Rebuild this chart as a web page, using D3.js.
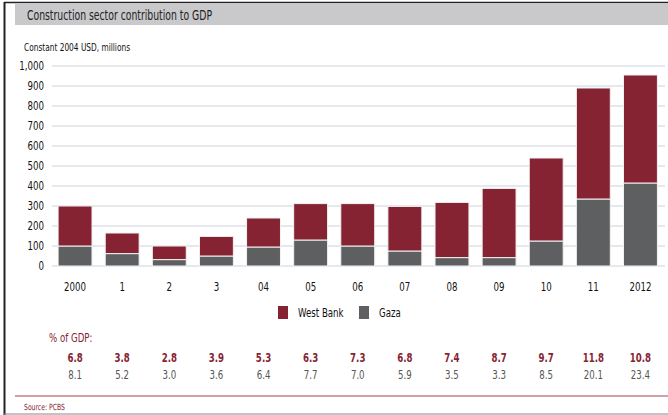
<!doctype html>
<html lang="en">
<head>
<meta charset="utf-8">
<title>Construction sector contribution to GDP</title>
<style>
  body { margin: 0; background: #fff; }
  svg text { font-family: "DejaVu Sans Condensed", "Liberation Sans Narrow", "Arial Narrow", sans-serif; }
</style>
</head>
<body>
<svg id="chart" width="668" height="415"></svg>
<script src="https://cdn.jsdelivr.net/npm/d3@7"></script>
<script>
// data
var years = ["2000", "1", "2", "3", "04", "05", "06", "07", "08", "09", "10", "11", "2012"];
var gaza = [100, 62, 32, 50, 95, 130, 100, 75, 42, 42, 125, 335, 415];
var westBank = [200, 103, 68, 98, 145, 182, 212, 223, 276, 346, 415, 555, 540];
var gdpWestBank = ["6.8", "3.8", "2.8", "3.9", "5.3", "6.3", "7.3", "6.8", "7.4", "8.7", "9.7", "11.8", "10.8"];
var gdpGaza = ["8.1", "5.2", "3.0", "3.6", "6.4", "7.7", "7.0", "5.9", "3.5", "3.3", "8.5", "20.1", "23.4"];
var yTicks = [0, 100, 200, 300, 400, 500, 600, 700, 800, 900, 1000];

var maroon = "#862333";
var grey = "#5e5f61";
var squeeze = "scale(0.8,1)"; // the original uses a narrow font

var svg = d3.select("#chart");

// put a narrow-looking text at (px, py)
function label(parent, px, py, txt) {
  return parent.append("g").attr("transform", "translate(" + px + "," + py + ")")
    .append("text").attr("transform", squeeze).text(txt);
}

// frame + title bar
svg.append("rect").attr("x", 15).attr("y", 4).attr("width", 653).attr("height", 21).attr("fill", "#c9c9cb");
svg.append("line").attr("x1", 4).attr("x2", 668).attr("y1", 2.5).attr("y2", 2.5).attr("stroke", "#222").attr("stroke-width", 1.5);
svg.append("line").attr("x1", 4.5).attr("x2", 4.5).attr("y1", 2).attr("y2", 415).attr("stroke", "#222").attr("stroke-width", 2);
svg.append("text").attr("x", 27).attr("y", 20).attr("font-size", 14).attr("fill", "#222")
  .attr("textLength", 185).attr("lengthAdjust", "spacingAndGlyphs")
  .text("Construction sector contribution to GDP");
svg.append("text").attr("x", 24).attr("y", 51).attr("font-size", 11).attr("fill", "#111")
  .attr("textLength", 106).attr("lengthAdjust", "spacingAndGlyphs")
  .text("Constant 2004 USD, millions");

var x = d3.scaleBand().domain(years).range([51.5, 664]).paddingInner(0.28).paddingOuter(0.14);
var y = d3.scaleLinear().domain([0, 1000]).range([266, 66]);

// gridlines
svg.append("g").selectAll("line").data(yTicks).join("line")
  .attr("x1", 52).attr("x2", 665)
  .attr("y1", d => y(d)).attr("y2", d => y(d))
  .attr("stroke", "#dce2e7").attr("stroke-width", 1.5);

var yAxis = svg.append("g").attr("transform", "translate(44,0)")
  .call(d3.axisLeft(y).tickValues(yTicks).tickSize(0).tickPadding(0).tickFormat(d3.format(",")));
yAxis.select(".domain").remove();
yAxis.selectAll("text").attr("font-size", 12).attr("fill", "#111").attr("transform", squeeze).style("font-family", null);

var rows = years.map((yr, i) => ({ year: yr, gaza: gaza[i], westBank: westBank[i] }));
var series = d3.stack().keys(["gaza", "westBank"])(rows);
var colors = { gaza: grey, westBank: maroon };

svg.append("g").selectAll("g").data(series).join("g")
  .attr("fill", d => colors[d.key])
  .selectAll("rect").data(d => d).join("rect")
  .attr("x", d => x(d.data.year))
  .attr("y", d => y(d[1]))
  .attr("width", x.bandwidth())
  .attr("height", d => y(d[0]) - y(d[1]))
  .attr("stroke", "#f2f2f2").attr("stroke-width", 1);

var xAxis = svg.append("g").attr("transform", "translate(0,282)")
  .call(d3.axisBottom(x).tickSize(0).tickPadding(0));
xAxis.select(".domain").remove();
xAxis.selectAll("text").attr("font-size", 12).attr("fill", "#111").attr("dy", "0.71em")
  .attr("transform", squeeze).style("font-family", null);

// legend
var legend = [["West Bank", maroon, 278], ["Gaza", grey, 359]];
legend.forEach(function (l) {
  svg.append("rect").attr("x", l[2]).attr("y", 306).attr("width", 10).attr("height", 13).attr("fill", l[1]);
  label(svg, l[2] + 20, 317, l[0]).attr("font-size", 12).attr("fill", "#111");
});

// % of GDP table
label(svg, 49, 342, "% of GDP:").attr("font-size", 12).attr("fill", maroon);
gdpWestBank.forEach(function (v, i) {
  label(svg, x(years[i]) + x.bandwidth() / 2, 362, v)
    .attr("text-anchor", "middle").attr("font-size", 12).attr("font-weight", "bold").attr("fill", maroon);
});
gdpGaza.forEach(function (v, i) {
  label(svg, x(years[i]) + x.bandwidth() / 2, 379, v)
    .attr("text-anchor", "middle").attr("font-size", 12).attr("fill", "#555");
});

// footer
svg.append("line").attr("x1", 15).attr("x2", 668).attr("y1", 396).attr("y2", 396).attr("stroke", "#a8414f").attr("stroke-width", 1.2);
label(svg, 24, 410, "Source: PCBS").attr("font-size", 8.5).attr("fill", maroon);
svg.append("line").attr("x1", 4).attr("x2", 668).attr("y1", 414).attr("y2", 414).attr("stroke", "#888").attr("stroke-width", 1);
</script>
</body>
</html>
